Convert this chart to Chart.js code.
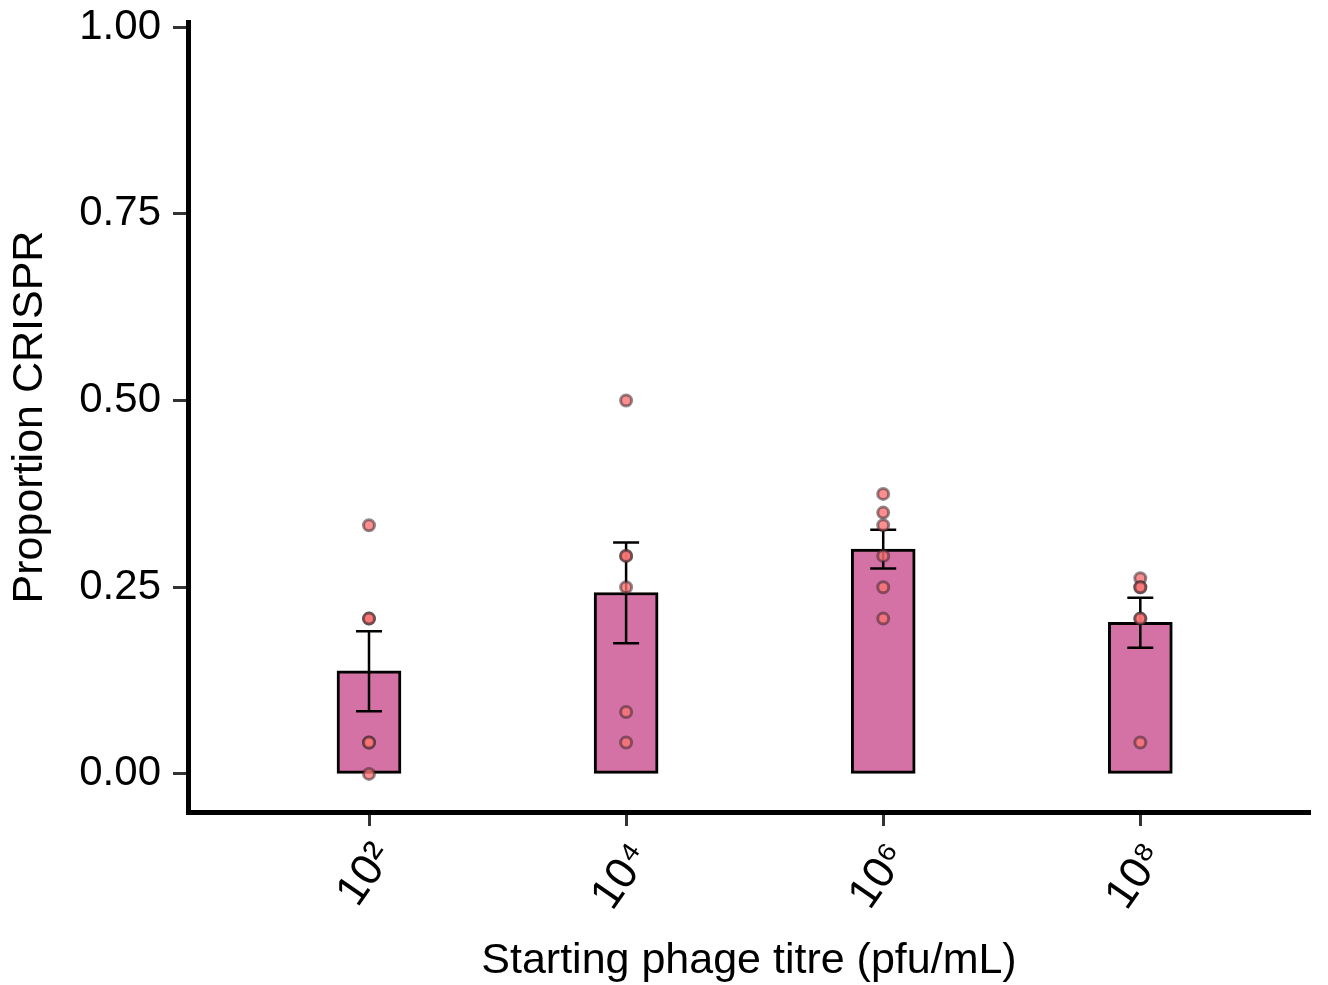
<!DOCTYPE html>
<html>
<head>
<meta charset="utf-8">
<script src="https://cdn.jsdelivr.net/npm/chart.js@4/dist/chart.umd.min.js"></script>
<style>
  html, body { margin: 0; padding: 0; background: #fff; }
  #wrap { width: 1328px; height: 985px; }
</style>
</head>
<body>
<div id="wrap"><canvas id="myChart" width="1328" height="985"></canvas></div>
<script>
// values
const titres = ['10²', '10⁴', '10⁶', '10⁸'];
const meanProp = [0.138, 0.243, 0.301, 0.203];
const seLow = [0.084, 0.175, 0.275, 0.169];
const seHigh = [0.191, 0.310, 0.327, 0.236];
const reps1 = [0.333, 0.208, 0.208, 0.042, 0.042, 0];
const reps2 = [0.5, 0.292, 0.292, 0.25, 0.083, 0.042];
const reps3 = [0.375, 0.35, 0.333, 0.292, 0.25, 0.208];
const reps4 = [0.262, 0.25, 0.25, 0.208, 0.208, 0.042];
const yTicks = [0, 0.25, 0.5, 0.75, 1];

const reps = [reps1, reps2, reps3, reps4];
const barData = meanProp.map((v, i) => ({ x: i + 1, y: v }));
const pointData = [];
reps.forEach((arr, i) => arr.forEach(v => pointData.push({ x: i + 1, y: v })));

const fontFam = '"Liberation Sans", Arial, Helvetica, sans-serif';

const errorBars = {
  id: 'errorBars',
  afterDatasetDraw(chart, args) {
    if (args.index !== 1) return;
    const { ctx, scales: { x, y } } = chart;
    ctx.save();
    ctx.strokeStyle = '#000';
    ctx.lineWidth = 2.5;
    seLow.forEach((lo, i) => {
      const px = x.getPixelForValue(i + 1);
      const yl = y.getPixelForValue(lo);
      const yh = y.getPixelForValue(seHigh[i]);
      ctx.beginPath();
      ctx.moveTo(px, yl); ctx.lineTo(px, yh);
      ctx.moveTo(px - 13, yl); ctx.lineTo(px + 13, yl);
      ctx.moveTo(px - 13, yh); ctx.lineTo(px + 13, yh);
      ctx.stroke();
    });
    ctx.restore();
  }
};

const ctx = document.getElementById('myChart').getContext('2d');
const myChart = new Chart(ctx, {
  data: {
    datasets: [
      {
        type: 'scatter',
        data: pointData,
        order: 0,
        pointRadius: 5.5,
        pointBorderWidth: 3,
        backgroundColor: 'rgba(250, 115, 115, 0.8)',
        borderColor: 'rgba(60, 40, 45, 0.55)',
        clip: false
      },
      {
        type: 'bar',
        data: barData,
        order: 1,
        barThickness: 64,
        backgroundColor: '#d472a6',
        borderColor: '#000',
        borderWidth: 3,
        borderSkipped: false
      }
    ]
  },
  options: {
    responsive: false,
    animation: false,
    layout: { padding: { top: 22, right: 18, left: 0, bottom: 0 } },
    plugins: { legend: { display: false }, tooltip: { enabled: false } },
    scales: {
      x: {
        type: 'linear',
        offset: false,
        min: 0.296,
        max: 4.66,
        afterBuildTicks: (s) => { s.ticks = titres.map((t, i) => ({ value: i + 1 })); },
        afterFit: (s) => { s.height = 173; s.paddingLeft = 0; s.paddingRight = 0; },
        ticks: {
          callback: (v) => titres[v - 1],
          minRotation: 55,
          maxRotation: 55,
          padding: 8,
          labelOffset: 15,
          color: '#000',
          font: { family: fontFam, size: 44 }
        },
        grid: { offset: false, drawOnChartArea: false, tickLength: 14, tickWidth: 3, tickColor: '#333' },
        border: { display: true, color: '#000', width: 5 },
        title: {
          display: true,
          text: 'Starting phage titre (pfu/mL)',
          color: '#000',
          font: { family: fontFam, size: 43, lineHeight: 1.1 },
          padding: 0
        }
      },
      y: {
        min: -0.051,
        max: 1.007,
        afterBuildTicks: (s) => { s.ticks = yTicks.map(v => ({ value: v })); },
        afterFit: (s) => { s.width = 188; s.paddingTop = 0; s.paddingBottom = 0; },
        ticks: {
          callback: (v) => Number(v).toFixed(2),
          padding: 12,
          color: '#000',
          font: { family: fontFam, size: 42 }
        },
        grid: { drawOnChartArea: false, tickLength: 15, tickWidth: 3, tickColor: '#333' },
        border: { display: true, color: '#000', width: 5 },
        title: {
          display: true,
          text: 'Proportion CRISPR',
          color: '#000',
          font: { family: fontFam, size: 43, lineHeight: 1.2 },
          padding: { top: 4, bottom: 0 }
        }
      }
    }
  },
  plugins: [errorBars]
});
</script>
</body>
</html>
